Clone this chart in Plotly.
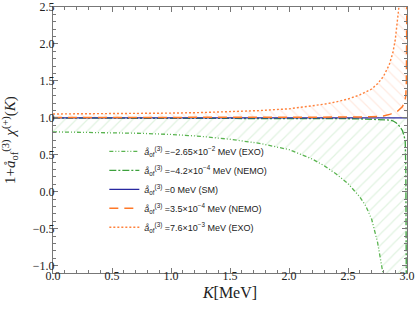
import plotly.graph_objects as go

# ---- data ----
K_exo_neg = [0, 0.25, 0.5, 0.75, 1.0, 1.25, 1.5, 1.75, 2.0, 2.1, 2.2, 2.3, 2.4, 2.5,
             2.6, 2.65, 2.7, 2.75, 2.78, 2.8, 2.85, 2.9, 2.95, 3.0]
y_exo_neg = [0.81, 0.805, 0.80, 0.79, 0.775, 0.75, 0.71, 0.655, 0.57, 0.50, 0.44, 0.35, 0.24, 0.11,
             -0.07, -0.19, -0.37, -0.68, -0.95, -1.15, -1.6, -2.6, -5.0, -20.0]

K_nemo_neg = [0, 0.5, 1.0, 1.5, 2.0, 2.3, 2.5, 2.6, 2.7, 2.75, 2.8, 2.85, 2.88, 2.91,
              2.94, 2.96, 2.975, 2.985, 2.99, 2.995]
y_nemo_neg = [0.997, 0.997, 0.996, 0.995, 0.993, 0.99, 0.988, 0.986, 0.983, 0.98, 0.976, 0.97, 0.96, 0.93,
              0.88, 0.83, 0.76, 0.68, 0.3, -1.5]

K_sm = [0, 3.0]
y_sm = [1.0, 1.0]

K_nemo_pos = [0, 0.5, 1.0, 1.5, 2.0, 2.5, 2.7, 2.8, 2.86, 2.92, 2.96, 2.98, 2.99, 2.995, 3.0]
y_nemo_pos = [1.003, 1.003, 1.003, 1.004, 1.005, 1.01, 1.015, 1.025, 1.05, 1.09, 1.15, 1.21, 1.3, 1.5, 3.0]

K_exo_pos = [0, 0.25, 0.5, 0.75, 1.0, 1.25, 1.5, 1.75, 2.0, 2.1, 2.2, 2.3, 2.4, 2.5,
             2.6, 2.7, 2.75, 2.8, 2.85, 2.88, 2.9, 2.92, 2.93, 2.95, 2.97, 3.0]
y_exo_pos = [1.052, 1.053, 1.055, 1.058, 1.064, 1.071, 1.082, 1.098, 1.122, 1.14, 1.16, 1.185, 1.215, 1.255,
             1.31, 1.39, 1.46, 1.56, 1.72, 1.88, 2.05, 2.3, 2.48, 2.9, 3.6, 8.0]

names = [
    "<i>å</i><sub>of</sub><sup>(3)</sup> =−2.65×10<sup>−2</sup> MeV (EXO)",
    "<i>å</i><sub>of</sub><sup>(3)</sup> =−4.2×10<sup>−4</sup> MeV (NEMO)",
    "<i>å</i><sub>of</sub><sup>(3)</sup> =0 MeV (SM)",
    "<i>å</i><sub>of</sub><sup>(3)</sup> =3.5×10<sup>−4</sup> MeV (NEMO)",
    "<i>å</i><sub>of</sub><sup>(3)</sup> =7.6×10<sup>−3</sup> MeV (EXO)",
]
x_ticks = [0.0, 0.5, 1.0, 1.5, 2.0, 2.5, 3.0]
y_ticks = [-1.0, -0.5, 0.0, 0.5, 1.0, 1.5, 2.0, 2.5]

fig = go.Figure()

# hatched regions (baseline = SM line)
fig.add_trace(go.Scatter(x=K_sm, y=y_sm, mode="lines", line=dict(width=0),
                         showlegend=False, hoverinfo="skip"))
fig.add_trace(go.Scatter(x=K_exo_neg, y=y_exo_neg, mode="lines", line=dict(width=0),
                         fill="tonexty", fillcolor="rgba(0,0,0,0)",
                         fillpattern=dict(shape="/", fgcolor="rgba(120,200,120,0.45)",
                                          bgcolor="rgba(0,0,0,0)", size=8, solidity=0.15),
                         showlegend=False, hoverinfo="skip"))
fig.add_trace(go.Scatter(x=K_sm, y=y_sm, mode="lines", line=dict(width=0),
                         showlegend=False, hoverinfo="skip"))
fig.add_trace(go.Scatter(x=K_exo_pos, y=y_exo_pos, mode="lines", line=dict(width=0),
                         fill="tonexty", fillcolor="rgba(0,0,0,0)",
                         fillpattern=dict(shape="\\", fgcolor="rgba(255,160,120,0.45)",
                                          bgcolor="rgba(0,0,0,0)", size=8, solidity=0.15),
                         showlegend=False, hoverinfo="skip"))

# lines
styles = [
    (K_exo_neg, y_exo_neg, dict(color="rgb(90,180,80)", width=1.3, dash="4px,2px,1px,2px,1px,2px")),
    (K_nemo_neg, y_nemo_neg, dict(color="rgb(60,160,60)", width=1.3, dash="7px,2px,2px,2px")),
    (K_sm, y_sm, dict(color="rgb(40,40,160)", width=1.2)),
    (K_nemo_pos, y_nemo_pos, dict(color="rgb(255,120,40)", width=1.5, dash="9px,6px")),
    (K_exo_pos, y_exo_pos, dict(color="rgb(255,130,60)", width=1.4, dash="2px,2px")),
]
for i, (kx, ky, ln) in enumerate(styles):
    fig.add_trace(go.Scatter(x=kx, y=ky, mode="lines", name=names[i], line=ln,
                             legendgroup=f"g{i}"))

axis_common = dict(
    showline=True, linecolor="#777", linewidth=1, mirror="allticks",
    ticks="inside", ticklen=5, tickcolor="#777", tickwidth=1,
    showgrid=False, zeroline=False, automargin=False,
    tickfont=dict(family="Liberation Serif", size=12, color="#222"),
    minor=dict(ticks="inside", ticklen=3, tickcolor="#777", dtick=0.1, showgrid=False),
)
fig.update_xaxes(range=[0, 3.0], tickvals=x_ticks, ticktext=[f"{v:.1f}" for v in x_ticks],
                 ticklabelstandoff=-8,
                 title=dict(text="<i>K</i>[MeV]", standoff=4,
                            font=dict(family="Liberation Serif", size=16, color="#222")),
                 **axis_common)
fig.update_yaxes(range=[-1.1, 2.5], tickvals=y_ticks, ticktext=[f"{v:.1f}".replace("-", "−") for v in y_ticks],
                 ticklabelstandoff=-5,
                 title=dict(text="1+<i>å</i><sub>of</sub><sup>(3)</sup> <i>χ</i><sup>(+)</sup>(<i>K</i>)",
                            font=dict(family="Liberation Serif", size=15, color="#222")),
                 **axis_common)

fig.update_layout(
    width=415, height=309,
    margin=dict(l=53, r=8, t=7, b=36),
    plot_bgcolor="white", paper_bgcolor="white",
    legend=dict(x=0.145, y=0.512, xanchor="left", yanchor="top", traceorder="normal",
                bgcolor="rgba(0,0,0,0)", borderwidth=0,
                font=dict(family="Liberation Sans", size=9, color="#222"),
                tracegroupgap=6.5, itemwidth=30),
)

fig.write_html("out.html", config={"displayModeBar": False},
               post_script="document.body.style.margin='0';document.body.style.overflow='hidden';")
